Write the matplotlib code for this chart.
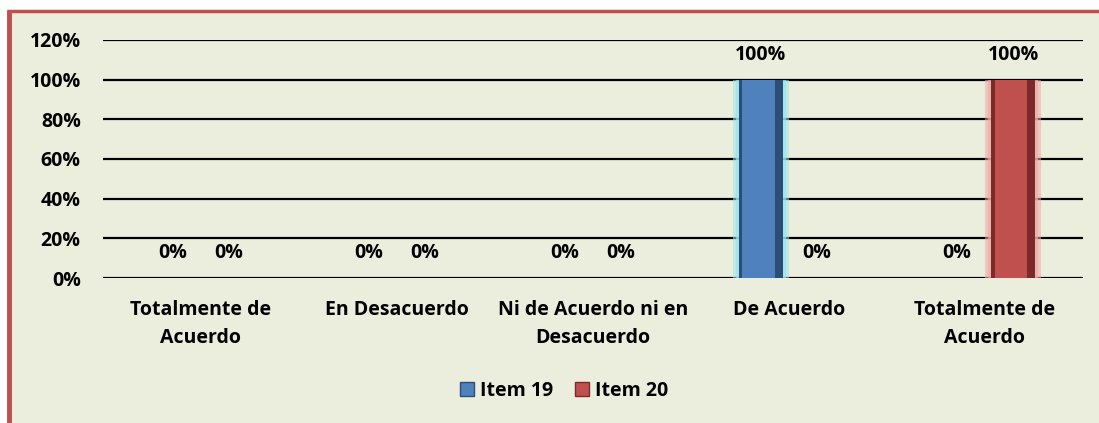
import matplotlib
matplotlib.use("Agg")
import matplotlib.pyplot as plt
import numpy as np
from matplotlib.patches import Rectangle
from matplotlib.lines import Line2D

categories = ["Totalmente de\nAcuerdo", "En Desacuerdo", "Ni de Acuerdo ni en\nDesacuerdo",
              "De Acuerdo", "Totalmente de\nAcuerdo"]
series_names = ["Item 19", "Item 20"]
item19 = [0.0, 0.0, 0.0, 1.0, 0.0]
item20 = [0.0, 0.0, 0.0, 0.0, 1.0]
yticks = [0.0, 0.2, 0.4, 0.6, 0.8, 1.0, 1.2]

plt.rcParams['font.family'] = ['Open Sans', 'DejaVu Sans']
plt.rcParams['font.weight'] = 'bold'
FS = 14

bg = "#EBEEDD"
fig = plt.figure(figsize=(10.99, 4.23), dpi=100)
fig.patch.set_facecolor("white")
bgrect = Rectangle((7/1099, 0), 1, 1 - 10/423, transform=fig.transFigure,
                   facecolor=bg, edgecolor="none", zorder=-10)
fig.add_artist(bgrect)
fig.add_artist(Line2D([9/1099, 9/1099], [0, 1 - 10/423], transform=fig.transFigure,
                      color="#C0504D", lw=3.5, solid_capstyle="butt", zorder=-5))
fig.add_artist(Line2D([7/1099, 1], [1 - 11.5/423, 1 - 11.5/423], transform=fig.transFigure,
                      color="#C0504D", lw=2.5, solid_capstyle="butt", zorder=-5))

ax = fig.add_axes([103/1099, 1 - 278/423, (1083 - 103)/1099, (278 - 40)/423])
ax.set_zorder(5)
ax.set_facecolor("none")
ax.set_xlim(-0.5, 4.5)
ax.set_ylim(0, 1.2)

x = np.arange(len(categories))
off = 0.143
w = 0.22
colors = ["#4F81BD", "#C0504D"]
glows = ["#9BE6EE", "#F0A8A4"]
darks = ["#2C4D75", "#7A2B29"]
for vals, o, c, g, d in [(item19, -off, colors[0], glows[0], darks[0]),
                         (item20, off, colors[1], glows[1], darks[1])]:
    ax.bar(x + o, vals, width=w + 0.07, color=g, alpha=0.55, zorder=2, linewidth=0)
    ax.bar(x + o, vals, width=w + 0.035, color=g, alpha=0.7, zorder=2, linewidth=0)
    ax.bar(x + o, vals, width=w, color=d, zorder=3, linewidth=0)
    ax.bar(x + o - 0.012, vals, width=w * 0.75, color=c, zorder=4, linewidth=0)
    for xi, v in zip(x + o, vals):
        ax.text(xi, v + 0.125, f"{v:.0%}", ha="center", va="center",
                fontsize=FS, fontweight="bold", zorder=5)

ax.set_yticks(yticks)
ax.set_yticklabels([f"{t:.0%}" for t in yticks], fontsize=FS, fontweight="bold")
ax.yaxis.grid(True, color="black", lw=1.6)
ax.set_axisbelow(True)
ax.tick_params(axis="y", length=0, pad=16)
ax.tick_params(axis="x", length=0, pad=16)
ax.set_xticks(x)
ax.set_xticklabels(categories, fontsize=FS, fontweight="bold", linespacing=1.5)
for s in ax.spines.values():
    s.set_visible(False)

handles = [Rectangle((0, 0), 1, 1, facecolor=colors[0], edgecolor=darks[0]),
           Rectangle((0, 0), 1, 1, facecolor=colors[1], edgecolor=darks[1])]
fig.legend(handles, series_names, loc="center", bbox_to_anchor=(564/1099, 1 - 391/423),
           ncol=2, frameon=False, handlelength=0.75, handleheight=0.75, handletextpad=0.3,
           columnspacing=1.1, prop={"size": FS, "weight": "bold"})

fig.savefig("out.png", dpi=100, facecolor=fig.get_facecolor())
